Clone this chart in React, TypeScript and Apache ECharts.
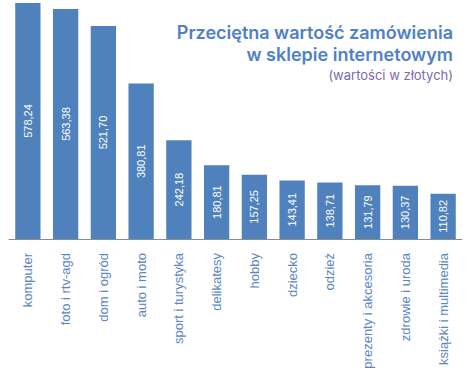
import React, { useEffect, useRef } from "react";
import * as echarts from "echarts";

const categories = [
  "komputer",
  "foto i rtv-agd",
  "dom i ogród",
  "auto i moto",
  "sport i turystyka",
  "delikatesy",
  "hobby",
  "dziecko",
  "odzież",
  "prezenty i akcesoria",
  "zdrowie i uroda",
  "książki i multimedia",
];
const values = [578.24, 563.38, 521.7, 380.81, 242.18, 180.81, 157.25, 143.41, 138.71, 131.79, 130.37, 110.82];
const titleLines = ["Przeciętna wartość zamówienia", "w sklepie internetowym"];
const subtitle = "(wartości w złotych)";

export default function App() {
  const ref = useRef<HTMLDivElement>(null);
  useEffect(() => {
    if (!ref.current) return;
    document.body.style.margin = "0";
    const chart = echarts.init(ref.current, undefined, { renderer: "svg" });
    chart.setOption({
      animation: false,
      grid: { left: 9, right: 8, top: 3, bottom: 135, containLabel: false },
      xAxis: {
        type: "category",
        data: categories,
        axisLine: { show: true, lineStyle: { color: "#8c8c8c", width: 1 } },
        axisTick: { show: false },
        axisLabel: {
          rotate: 90,
          margin: 14,
          color: "#5b86c4",
          fontSize: 13,
          fontFamily: "Liberation Sans",
          interval: 0,
        },
      },
      yAxis: {
        type: "value",
        min: 0,
        max: "dataMax",
        show: false,
        splitLine: { show: false },
      },
      series: [
        {
          type: "bar",
          data: values,
          barCategoryGap: "33%",
          itemStyle: { color: "#4f81bd" },
          label: {
            show: true,
            position: "inside",
            rotate: 90,
            color: "#ffffff",
            fontSize: 11,
            fontFamily: "Liberation Sans",
            formatter: (p: any) => p.value.toFixed(2).replace(".", ","),
          },
        },
      ],
      graphic: [
        {
          type: "text",
          x: 453,
          y: 32,
          style: {
            text: titleLines[0],
            align: "right",
            verticalAlign: "middle",
            fill: "#4f81c6",
            font: "600 18px Inter",
          },
        },
        {
          type: "text",
          x: 453,
          y: 54.5,
          style: {
            text: titleLines[1],
            align: "right",
            verticalAlign: "middle",
            fill: "#4f81c6",
            font: "600 18px Inter",
          },
        },
        {
          type: "text",
          x: 453,
          y: 75,
          style: {
            text: subtitle,
            align: "right",
            verticalAlign: "middle",
            fill: "#7b68b8",
            font: "13px Inter",
          },
        },
      ],
    });
    return () => chart.dispose();
  }, []);
  return <div ref={ref} style={{ width: 470, height: 374 }} />;
}
